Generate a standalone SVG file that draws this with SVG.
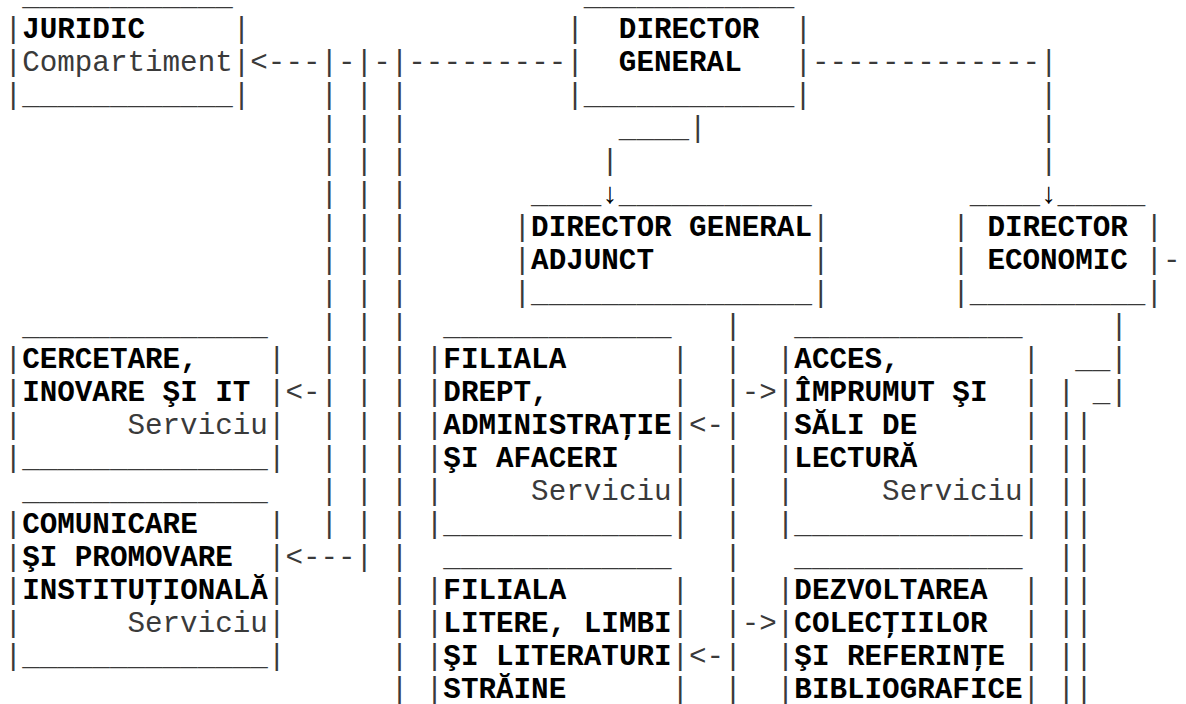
<svg xmlns="http://www.w3.org/2000/svg" width="1186" height="704" viewBox="0 0 1186 704" xml:space="preserve">
<style>
text{font-family:"Liberation Mono","Courier New","DejaVu Sans Mono",monospace;font-size:29.25px;fill:#3a3a3a;white-space:pre}
.b{font-weight:bold;fill:#000}
.ar{fill:#000}
</style>
<rect width="1186" height="704" fill="#fff"/>
<g id="connectors">
<text x="250.3" y="71.2">&lt;---|-|-|---------</text>
<text x="811.9" y="71.2">-------------|</text>
<text x="320.5" y="104.2">| | |</text><text x="1040.05" y="104.2">|</text>
<text x="320.5" y="137.2">| | |</text><text x="618.85" y="137.2">____|</text><text x="1040.05" y="137.2">|</text>
<text x="320.5" y="170.2">| | |</text><text x="601.3" y="170.2">|</text><text x="1040.05" y="170.2">|</text>
<text x="320.5" y="203.2">| | |</text><text class="ar" x="601.3" y="203.2">↓</text><text class="ar" x="1040.05" y="203.2">↓</text>
<text x="320.5" y="236.2">| | |</text>
<text x="320.5" y="269.2">| | |</text><text x="1162.9" y="269.2">-</text>
<text x="320.5" y="302.2">| | |</text>
<text x="320.5" y="335.2">| | |</text><text x="724.15" y="335.2">|</text><text x="1110.25" y="335.2">|</text>
<text x="320.5" y="368.2">| | |</text><text x="724.15" y="368.2">|</text><text x="1075.15" y="368.2">__|</text>
<text x="285.4" y="401.2">&lt;-| | |</text><text x="724.15" y="401.2">|-&gt;</text><text x="1057.6" y="401.2">| _|</text>
<text x="320.5" y="434.2">| | |</text><text x="689.05" y="434.2">&lt;-|</text><text x="1057.6" y="434.2">||</text>
<text x="320.5" y="467.2">| | |</text><text x="724.15" y="467.2">|</text><text x="1057.6" y="467.2">||</text>
<text x="320.5" y="500.2">| | |</text><text x="724.15" y="500.2">|</text><text x="1057.6" y="500.2">||</text>
<text x="320.5" y="533.2">| | |</text><text x="724.15" y="533.2">|</text><text x="1057.6" y="533.2">||</text>
<text x="285.4" y="566.2">&lt;---| |</text><text x="724.15" y="566.2">|</text><text x="1057.6" y="566.2">||</text>
<text x="390.7" y="599.2">|</text><text x="724.15" y="599.2">|</text><text x="1057.6" y="599.2">||</text>
<text x="390.7" y="632.2">|</text><text x="724.15" y="632.2">|-&gt;</text><text x="1057.6" y="632.2">||</text>
<text x="390.7" y="665.2">|</text><text x="689.05" y="665.2">&lt;-|</text><text x="1057.6" y="665.2">||</text>
<text x="390.7" y="698.2">|</text><text x="724.15" y="698.2">|</text><text x="1057.6" y="698.2">||</text>
</g>
<g id="juridic">
<text x="22.15" y="5.2">____________</text>
<text x="4.6" y="38.2">|<tspan class="b">JURIDIC</tspan>     |</text>
<text x="4.6" y="71.2">|Compartiment|</text>
<text x="4.6" y="104.2">|____________|</text>
</g>
<g id="director-general">
<text x="583.75" y="5.2">____________</text>
<text x="566.2" y="38.2">|  <tspan class="b">DIRECTOR</tspan>  |</text>
<text x="566.2" y="71.2">|  <tspan class="b">GENERAL</tspan>   |</text>
<text x="566.2" y="104.2">|____________|</text>
</g>
<g id="director-general-adjunct">
<text x="531.1" y="203.2">____</text>
<text x="618.85" y="203.2">___________</text>
<text x="513.55" y="236.2">|<tspan class="b">DIRECTOR GENERAL</tspan>|</text>
<text x="513.55" y="269.2">|<tspan class="b">ADJUNCT</tspan>         |</text>
<text x="513.55" y="302.2">|________________|</text>
</g>
<g id="director-economic">
<text x="969.85" y="203.2">____</text>
<text x="1057.6" y="203.2">_____</text>
<text x="952.3" y="236.2">| <tspan class="b">DIRECTOR</tspan> |</text>
<text x="952.3" y="269.2">| <tspan class="b">ECONOMIC</tspan> |</text>
<text x="952.3" y="302.2">|__________|</text>
</g>
<g id="cercetare">
<text x="22.15" y="335.2">______________</text>
<text x="4.6" y="368.2">|<tspan class="b">CERCETARE,</tspan>    |</text>
<text x="4.6" y="401.2">|<tspan class="b">INOVARE ŞI IT</tspan> |</text>
<text x="4.6" y="434.2">|      Serviciu|</text>
<text x="4.6" y="467.2">|______________|</text>
</g>
<g id="comunicare">
<text x="22.15" y="500.2">______________</text>
<text x="4.6" y="533.2">|<tspan class="b">COMUNICARE</tspan>    |</text>
<text x="4.6" y="566.2">|<tspan class="b">ŞI PROMOVARE</tspan>  |</text>
<text x="4.6" y="599.2">|<tspan class="b">INSTITUŢIONALĂ</tspan>|</text>
<text x="4.6" y="632.2">|      Serviciu|</text>
<text x="4.6" y="665.2">|______________|</text>
</g>
<g id="filiala-drept">
<text x="443.35" y="335.2">_____________</text>
<text x="425.8" y="368.2">|<tspan class="b">FILIALA</tspan>      |</text>
<text x="425.8" y="401.2">|<tspan class="b">DREPT,</tspan>       |</text>
<text x="425.8" y="434.2">|<tspan class="b">ADMINISTRAŢIE</tspan>|</text>
<text x="425.8" y="467.2">|<tspan class="b">ŞI AFACERI</tspan>   |</text>
<text x="425.8" y="500.2">|     Serviciu|</text>
<text x="425.8" y="533.2">|_____________|</text>
</g>
<g id="filiala-litere">
<text x="443.35" y="566.2">_____________</text>
<text x="425.8" y="599.2">|<tspan class="b">FILIALA</tspan>      |</text>
<text x="425.8" y="632.2">|<tspan class="b">LITERE, LIMBI</tspan>|</text>
<text x="425.8" y="665.2">|<tspan class="b">ŞI LITERATURI</tspan>|</text>
<text x="425.8" y="698.2">|<tspan class="b">STRĂINE</tspan>      |</text>
</g>
<g id="acces">
<text x="794.35" y="335.2">_____________</text>
<text x="776.8" y="368.2">|<tspan class="b">ACCES,</tspan>       |</text>
<text x="776.8" y="401.2">|<tspan class="b">ÎMPRUMUT ŞI</tspan>  |</text>
<text x="776.8" y="434.2">|<tspan class="b">SĂLI DE</tspan>      |</text>
<text x="776.8" y="467.2">|<tspan class="b">LECTURĂ</tspan>      |</text>
<text x="776.8" y="500.2">|     Serviciu|</text>
<text x="776.8" y="533.2">|_____________|</text>
</g>
<g id="dezvoltarea">
<text x="794.35" y="566.2">_____________</text>
<text x="776.8" y="599.2">|<tspan class="b">DEZVOLTAREA</tspan>  |</text>
<text x="776.8" y="632.2">|<tspan class="b">COLECŢIILOR</tspan>  |</text>
<text x="776.8" y="665.2">|<tspan class="b">ŞI REFERINŢE</tspan> |</text>
<text x="776.8" y="698.2">|<tspan class="b">BIBLIOGRAFICE</tspan>|</text>
</g>
</svg>
